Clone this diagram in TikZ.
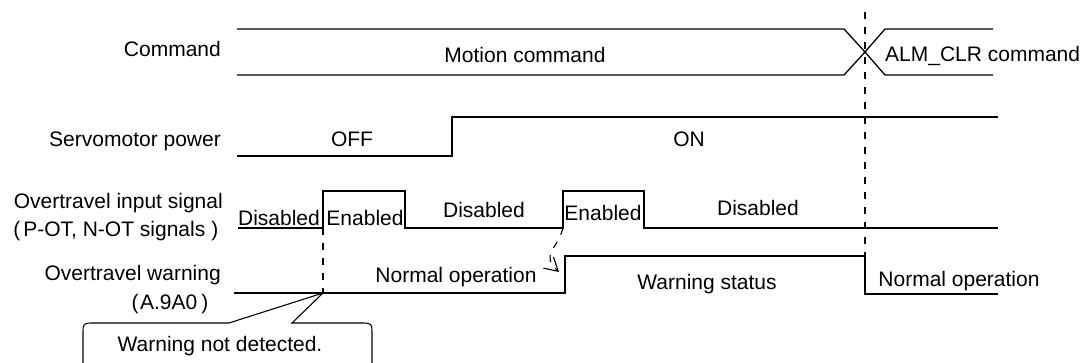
\documentclass[tikz,border=0pt]{standalone}
\usepackage{fontspec}
\setmainfont{Liberation Sans}
\usetikzlibrary{arrows.meta}
\begin{document}
\begin{tikzpicture}[x=1pt,y=-1pt,
  sig/.style={line width=1.3pt, line join=miter},
  lbl/.style={inner sep=0pt, font=\fontsize{21}{25}\selectfont},
  guide/.style={line width=1.1pt, dash pattern=on 7pt off 8pt},
  balloon/.style={line width=1.1pt}]
\useasboundingbox (0,0) rectangle (1084,362);
\clip (0,0) rectangle (1084,362);

% --- signal labels (left) ---
\node[lbl, anchor=base east] (lcmd) at (221,56) {Command};
\node[lbl, anchor=base east] (lsrv) at (221,146) {Servomotor power};
\node[lbl, anchor=base east] (lot1) at (223,208) {Overtravel input signal};
\node[lbl, anchor=base east] (lot2) at (218.5,236) {(\hspace{3pt}P-OT, N-OT signals\hspace{6pt})};
\node[lbl, anchor=base east] (lwr2) at (208.5,309) {(\hspace{1.5pt}A.9A0\hspace{4pt})};
\node[lbl, anchor=base east] (lwr1) at (221,280) {Overtravel warning};

% --- command bus ---
\coordinate (cx) at (865,52);
\draw[sig] (237,29) -- (844,29) -- (cx) -- (885,75) -- (993,75);
\draw[sig] (237,75) -- (844,75) -- (cx) -- (885,29) -- (993,29);
\node[lbl, anchor=base] (tmot) at (525,62) {Motion command};
\node[lbl, anchor=base west] (talm) at (885,61) {ALM\_CLR command};

% --- servomotor power ---
\draw[sig] (237,156) -- (452,156) -- (452,117) -- (998,117);
\node[lbl, anchor=base] (toff) at (352,146) {OFF};
\node[lbl, anchor=base] (ton) at (689,146) {ON};

% --- overtravel input signal ---
\coordinate (ot1) at (323,228);
\coordinate (ot2) at (563,228);
\draw[sig] (238,228) -- (ot1) -- (323,191) -- (405,191) -- (405,228) -- (ot2) -- (563,191) -- (644,191) -- (644,228) -- (998,228);
\node[lbl, anchor=base] (td1) at (279,225) {Disabled};
\node[lbl, anchor=base] (te1) at (365,225) {Enabled};
\node[lbl, anchor=base] (td2) at (484,217) {Disabled};
\node[lbl, anchor=base] (te2) at (603,220) {Enabled};
\node[lbl, anchor=base] (td3) at (758,215) {Disabled};

% --- overtravel warning ---
\coordinate (wr0) at (323,293);
\coordinate (wrup) at (559,272);
\coordinate (wrclr) at (865,256);
\draw[sig] (234,293) -- (wr0) -- (565,293) -- (565,256) -- (wrclr) -- (865,294) -- (998,294);
\node[lbl, anchor=base] (tn1) at (456,282) {Normal operation};
\node[lbl, anchor=base] (tws) at (707,289) {Warning status};
\node[lbl, anchor=base] (tn2) at (959,286) {Normal operation};

% --- guides ---
\coordinate (gtop) at (865,12);
\draw[guide] (gtop) -- (wrclr);
\draw[guide] (ot1) -- (wr0);
\draw[guide, -{Straight Barb[length=13pt,width=15pt,line width=1.1pt]}]
  (ot2) .. controls (557,250) and (540,255) .. (wrup);

% --- callout ---
\draw[balloon] (83,372) -- (83,335) .. controls (83,323) .. (95,323) -- (229,323)
  -- (wr0) -- (292,323) -- (360,323) .. controls (372,323) .. (372,335) -- (372,372);
\node[lbl, anchor=base] (tcall) at (220,351) {Warning not detected.};
\end{tikzpicture}
\end{document}
